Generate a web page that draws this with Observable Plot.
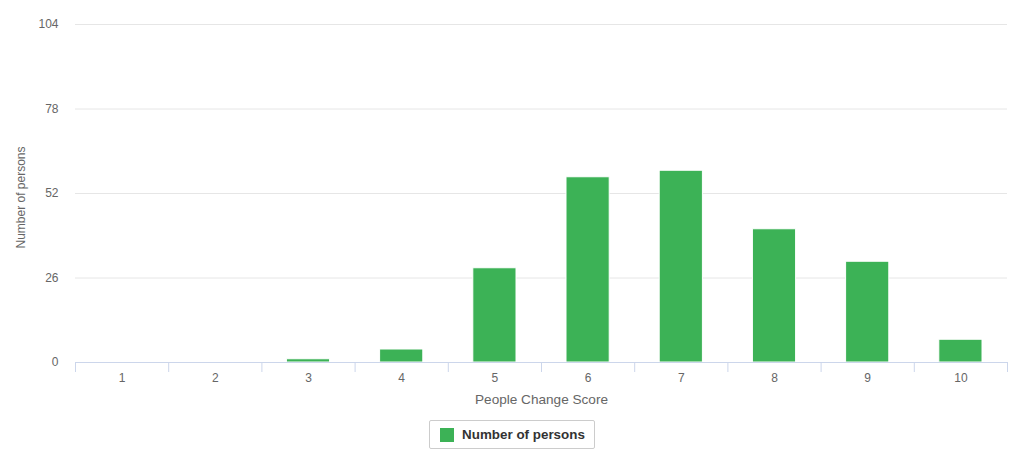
<!DOCTYPE html>
<html>
<head>
<meta charset="utf-8">
<script src="https://cdn.jsdelivr.net/npm/d3@7"></script>
<script src="https://cdn.jsdelivr.net/npm/@observablehq/plot@0.6"></script>
<style>
  body { margin: 0; background: #fff; font-family: "Liberation Sans", Arial, Helvetica, sans-serif; }
  #chart svg { display: block; }
  .legend { display: flex; justify-content: center; margin-top: 8px; }
  .legend .box { display: flex; align-items: center; box-sizing: border-box; border: 1px solid #cccccc; border-radius: 2px; padding: 0 9px 0 10px; height: 29px; }
  .legend .sw { width: 14px; height: 14px; background: #3cb256; margin-right: 8px; }
  .legend .lbl { font-size: 13.4px; font-weight: bold; color: #333; }
</style>
</head>
<body>
<div id="chart"></div>
<div class="legend"><div class="box"><div class="sw"></div><div class="lbl">Number of persons</div></div></div>
<script>
const categories = [1, 2, 3, 4, 5, 6, 7, 8, 9, 10];
const persons = [0, 0, 1, 4, 29, 57, 59, 41, 31, 7];
const yTicks = [0, 26, 52, 78, 104];
const xTitle = "People Change Score";
const yTitle = "Number of persons";

const data = categories.map((c, i) => ({score: c, value: persons[i]}));
const boundaries = [categories[0] - 0.5, ...categories.map(c => c + 0.5)];

const chart = Plot.plot({
  width: 1024,
  height: 412,
  marginLeft: 75,
  marginRight: 17,
  marginTop: 24,
  marginBottom: 50,
  style: {fontFamily: '"Liberation Sans", Arial, Helvetica, sans-serif', fontSize: "12px", color: "#666"},
  x: {domain: [0.5, 10.5]},
  y: {domain: [0, 104]},
  marks: [
    Plot.ruleY(yTicks.filter(t => t > 0), {stroke: "#e6e6e6", strokeOpacity: 1}),
    Plot.rectY(data, {x1: d => d.score - 0.5, x2: d => d.score + 0.5, y: "value", fill: "#3cb256", stroke: "#fff", strokeWidth: 1, insetLeft: 25, insetRight: 25}),
    Plot.ruleY([0], {stroke: "#ccd6eb", strokeOpacity: 1}),
    Plot.ruleX(boundaries, {x: d => d, y1: 0, y2: 0, insetBottom: -10, stroke: "#ccd6eb", strokeOpacity: 1}),
    Plot.axisY({ticks: yTicks, tickSize: 0, tickPadding: 17, label: null, fill: "#666"}),
    Plot.axisX({ticks: categories, tickSize: 0, tickPadding: 11, label: null, fill: "#666", tickFormat: d => String(d)}),
    Plot.text([yTitle], {text: d => d, frameAnchor: "left", rotate: -90, dx: -54, dy: 4, fill: "#666", fontSize: 12, textAnchor: "middle", lineAnchor: "middle"}),
    Plot.text([xTitle], {text: d => d, frameAnchor: "bottom", dy: 37, fill: "#666", fontSize: 13.6, textAnchor: "middle", lineAnchor: "middle"})
  ]
});
document.getElementById("chart").appendChild(chart);
</script>
</body>
</html>
